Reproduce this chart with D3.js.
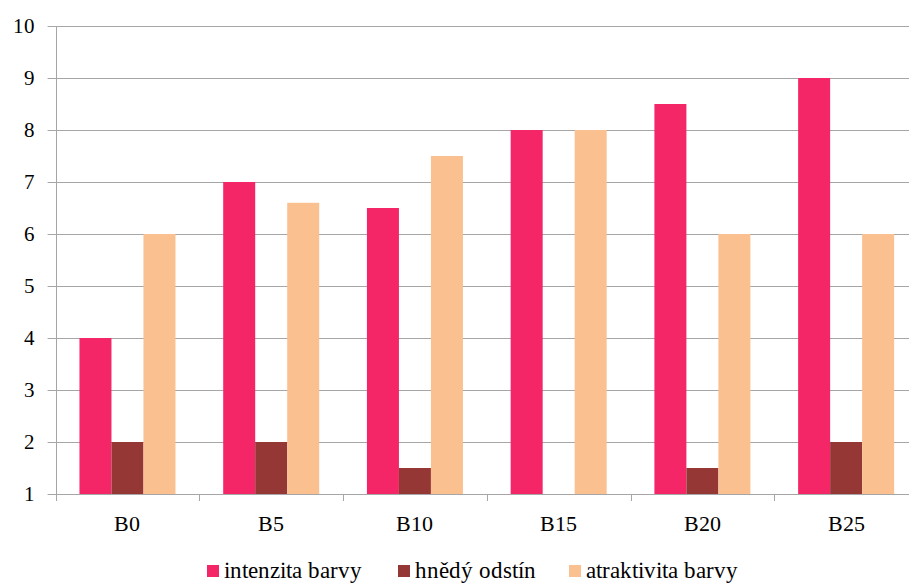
<!DOCTYPE html>
<html>
<head>
<meta charset="utf-8">
<script src="https://cdn.jsdelivr.net/npm/d3@7"></script>
<style>
  @font-face {
    font-family: "ChartSerif";
    src: local("Liberation Serif"), local("LiberationSerif"), local("LiberationSerif-Regular"),
         local("Times New Roman"), local("Tinos");
  }
  html, body { margin: 0; padding: 0; background: #fff; }
  svg { display: block; }
  svg text { font-family: "ChartSerif", "Liberation Serif", "Times New Roman", serif; }
</style>
</head>
<body>
<svg id="chart" width="909" height="584"></svg>
<script>
// Sample categories and sensory scores
const categories = ["B0", "B5", "B10", "B15", "B20", "B25"];
const seriesNames = ["intenzita barvy", "hnědý odstín", "atraktivita barvy"];
const intenzita = [4, 7, 6.5, 8, 8.5, 9];
const hnedy = [2, 2, 1.5, 1, 1.5, 2];
const atraktivita = [6, 6.6, 7.5, 8, 6, 6];
const yTicks = [1, 2, 3, 4, 5, 6, 7, 8, 9, 10];
const colors = ["#F42668", "#953735", "#FAC090"];

const series = [intenzita, hnedy, atraktivita];

const svg = d3.select("#chart");
const plotLeft = 55.6, plotRight = 918, plotTop = 26, plotBottom = 494;

const x = d3.scaleBand().domain(categories).range([plotLeft, plotRight]).padding(0);
const step = x.step();
const groupW = 96;
const xs = d3.scaleBand().domain(d3.range(series.length))
  .range([(step - groupW) / 2, (step + groupW) / 2]).padding(0);
const y = d3.scaleLinear().domain([1, 10]).range([plotBottom, plotTop]);

const gridColor = "#A6A6A6";

// horizontal gridlines with tick marks on the left
svg.append("g").selectAll("line").data(yTicks).join("line")
  .attr("x1", plotLeft - 8).attr("x2", 909)
  .attr("y1", d => Math.round(y(d)) + 0.5).attr("y2", d => Math.round(y(d)) + 0.5)
  .attr("stroke", gridColor).attr("stroke-width", 1);

// y axis line
svg.append("line")
  .attr("x1", Math.round(plotLeft) + 0.5).attr("x2", Math.round(plotLeft) + 0.5)
  .attr("y1", plotTop).attr("y2", plotBottom + 7)
  .attr("stroke", gridColor);

// category separator ticks below the axis
svg.append("g").selectAll("line").data(categories.slice(1)).join("line")
  .attr("x1", d => Math.round(x(d)) + 0.5).attr("x2", d => Math.round(x(d)) + 0.5)
  .attr("y1", plotBottom).attr("y2", plotBottom + 7)
  .attr("stroke", gridColor);

// y tick labels
svg.append("g").selectAll("text").data(yTicks).join("text")
  .attr("x", 35).attr("y", d => y(d) + 7)
  .attr("text-anchor", "end")
  .attr("font-size", 21)
  .attr("fill", "#000")
  .text(d => d);

// bars
const groups = svg.append("g").selectAll("g").data(categories).join("g")
  .attr("transform", d => `translate(${x(d)},0)`);
groups.selectAll("rect")
  .data((c, i) => series.map((s, k) => ({ k, v: s[i] })))
  .join("rect")
  .attr("x", d => xs(d.k))
  .attr("width", xs.bandwidth())
  .attr("y", d => y(d.v))
  .attr("height", d => y(1) - y(d.v))
  .attr("fill", d => colors[d.k]);

// category labels
svg.append("g").selectAll("text").data(categories).join("text")
  .attr("x", d => x(d) + step / 2).attr("y", 531)
  .attr("text-anchor", "middle")
  .attr("font-size", 22)
  .attr("fill", "#000")
  .text(d => d);

// legend
const legendX = [207, 398, 569];
const lg = svg.append("g").selectAll("g").data(seriesNames).join("g")
  .attr("transform", (d, i) => `translate(${legendX[i]},0)`);
lg.append("rect").attr("x", 0).attr("y", 565).attr("width", 12).attr("height", 12)
  .attr("fill", (d, i) => colors[i]);
lg.append("text").attr("x", 17).attr("y", 578)
  .attr("font-size", 23)
  .attr("fill", "#000")
  .text(d => d);
</script>
</body>
</html>
